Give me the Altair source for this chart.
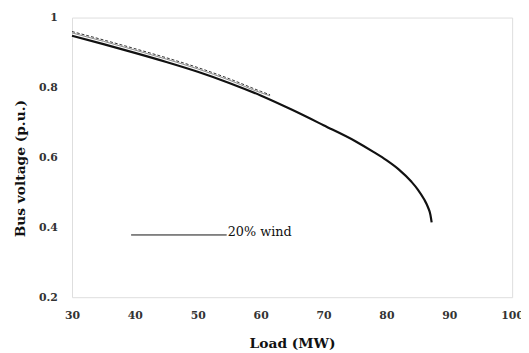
import altair as alt
import pandas as pd

# main PV curve (20% wind)
load_main = [30, 35, 40, 45, 50, 55, 60, 65, 70, 75, 78, 80, 82, 84, 85, 86, 86.6, 87.0, 87.2]
volt_main = [0.948, 0.924, 0.899, 0.873, 0.845, 0.813, 0.777, 0.736, 0.692, 0.647, 0.615, 0.592, 0.565, 0.530, 0.508, 0.480, 0.458, 0.436, 0.414]

# overlapping comparison curves (end near 61 MW)
load_b = [30, 35, 40, 45, 50, 55, 60, 61.5]
volt_b = [0.956, 0.932, 0.907, 0.881, 0.853, 0.821, 0.785, 0.776]
volt_c = [0.960, 0.936, 0.911, 0.885, 0.857, 0.825, 0.789, 0.779]

legend_x = [39.4, 54.6]
legend_y = [0.378, 0.378]
legend_label = "20% wind"

df_main = pd.DataFrame({"x": load_main, "y": volt_main})
df_b = pd.DataFrame({"x": load_b, "y": volt_b})
df_c = pd.DataFrame({"x": load_b, "y": volt_c})
df_leg = pd.DataFrame({"x": legend_x, "y": legend_y})
df_txt = pd.DataFrame({"x": [legend_x[1]], "y": [legend_y[0]], "t": [legend_label]})

xs = alt.Scale(domain=[30, 100], nice=False, zero=False)
ys = alt.Scale(domain=[0.2, 1.0], nice=False, zero=False)

xax = alt.Axis(values=[30, 40, 50, 60, 70, 80, 90, 100], title="Load (MW)", grid=False,
               domain=False, ticks=False, labelPadding=13, labelFont="DejaVu Serif",
               labelFontWeight="bold", labelFontSize=11, labelColor="#333",
               titleFont="DejaVu Serif", titleFontWeight="bold", titleFontSize=14,
               titleColor="#111", titleY=47, titleBaseline="middle", labelFlush=False)
yax = alt.Axis(values=[0.2, 0.4, 0.6, 0.8, 1.0], title="Bus voltage (p.u.)", grid=False,
               domain=False, ticks=False, labelPadding=15, labelFont="DejaVu Serif",
               labelFontWeight="bold", labelFontSize=11, labelColor="#333",
               titleFont="DejaVu Serif", titleFontWeight="bold", titleFontSize=14,
               titleColor="#111", titleX=-52, titleY=153, titleAngle=270,
               titleAlign="center", titleBaseline="middle", labelFlush=False,
               labelExpr="datum.value == 1 ? '1' : format(datum.value, '.1f')")

X = alt.X("x:Q", scale=xs, axis=xax)
Y = alt.Y("y:Q", scale=ys, axis=yax)

main = alt.Chart(df_main).mark_line(color="#111", strokeWidth=2.2, interpolate="monotone").encode(x=X, y=Y, order="x:Q")
b = alt.Chart(df_b).mark_line(color="#888", strokeWidth=1, interpolate="monotone").encode(x="x:Q", y="y:Q")
c = alt.Chart(df_c).mark_line(color="#333", strokeWidth=1, strokeDash=[3, 2], interpolate="monotone").encode(x="x:Q", y="y:Q")
leg = alt.Chart(df_leg).mark_line(color="#111", strokeWidth=1).encode(x="x:Q", y="y:Q")
txt = alt.Chart(df_txt).mark_text(align="left", baseline="bottom", dx=1, dy=4, font="DejaVu Serif",
                                  fontSize=13, color="#111").encode(x="x:Q", y="y:Q", text="t:N")

chart = alt.layer(main, b, c, leg, txt).properties(
    width=447, height=284,
    autosize=alt.AutoSizeParams(type="none"),
    padding={"left": 65, "top": 7, "right": 9, "bottom": 54},
).configure_view(stroke="#aaa", strokeWidth=1.5).configure(background="white")

chart.save("out.html", embed_options={"renderer": "svg", "actions": False})
